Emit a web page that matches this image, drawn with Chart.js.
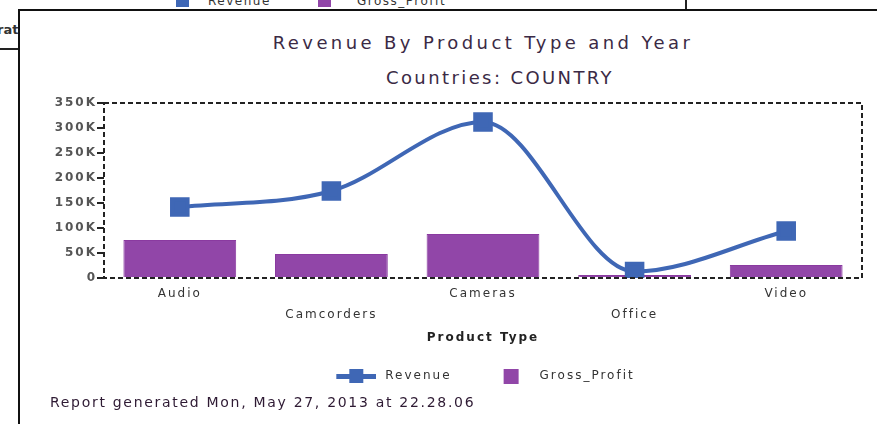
<!DOCTYPE html>
<html>
<head>
<meta charset="utf-8">
<script src="https://cdn.jsdelivr.net/npm/chart.js@4"></script>
<style>
  html, body { margin: 0; padding: 0; background: #fff; }
  body { width: 877px; height: 424px; position: relative; overflow: hidden; font-family: "DejaVu Sans", sans-serif; }
  .back-legend { position: absolute; top: -6px; left: 0; font-size: 12px; letter-spacing: 1.5px; color: #333; }
  .back-legend span { position: absolute; white-space: nowrap; }
  .sq { width: 13px; height: 13px; }
  .back-line-v { position: absolute; left: 685px; top: 0; width: 2px; height: 11px; background: #222; }
  .rat { position: absolute; left: -3px; top: 22px; font: bold 13px "DejaVu Sans", sans-serif; color: #333; }
  .back-line-h { position: absolute; left: 0; top: 48px; width: 20px; height: 2px; background: #222; }
  .panel { position: absolute; left: 18px; top: 9px; width: 900px; height: 430px; border-left: 2px solid #111; border-top: 2px solid #111; background: #fff; }
  .ttl { position: absolute; left: 0; width: 966px; text-align: center; color: #3b2a45; white-space: nowrap; font-family: "DejaVu Sans", sans-serif; line-height: 22px; }
  .t1 { top: 32px; font-size: 18px; letter-spacing: 3.4px; }
  .t2 { top: 67px; left: 17px; font-size: 18px; letter-spacing: 2.4px; }
  #wrap { position: absolute; left: 0; top: 0; width: 877px; height: 424px; }
  .footer { position: absolute; left: 50px; top: 393px; font: 14px/18px "DejaVu Sans", sans-serif; letter-spacing: 1.7px; color: #2e1a33; white-space: nowrap; }
</style>
</head>
<body>
<div class="back-legend">
  <span class="sq" style="left:176px;top:0;background:#3f67b5"></span>
  <span style="left:208px;top:0">Revenue</span>
  <span class="sq" style="left:318px;top:0;background:#9146a8"></span>
  <span style="left:357px;top:0">Gross_Profit</span>
</div>
<div class="back-line-v"></div>
<div class="rat">rat</div>
<div class="back-line-h"></div>
<div class="panel"></div>
<div class="ttl t1">Revenue By Product Type and Year</div>
<div class="ttl t2">Countries: COUNTRY</div>
<div id="wrap"><canvas id="chart"></canvas></div>
<div class="footer">Report generated Mon, May 27, 2013 at 22.28.06</div>
<script>
const categories = ['Audio', 'Camcorders', 'Cameras', 'Office', 'Video'];
const revenue = [142000, 174000, 312000, 13000, 94000];
const grossProfit = [76000, 48000, 88000, 6000, 26000];
const yTicks = [0, 50000, 100000, 150000, 200000, 250000, 300000, 350000];

const blue = '#3f67b5';
const purple = '#9146a8';

// legend icons, drawn at the right end of a 68px wide box
function lineIcon() {
  const c = document.createElement('canvas');
  c.width = 68; c.height = 16;
  const g = c.getContext('2d');
  g.fillStyle = blue;
  g.fillRect(28, 6, 40, 5);
  g.fillRect(41, 1, 14, 14);
  return c;
}
function squareIcon() {
  const c = document.createElement('canvas');
  c.width = 68; c.height = 15;
  const g = c.getContext('2d');
  g.fillStyle = purple;
  g.fillRect(41, 0, 15, 15);
  return c;
}
const icons = [lineIcon(), squareIcon()];

// wide letter spacing like the original report renderer
const spacing = {
  id: 'spacing',
  beforeUpdate(chart) { chart.ctx.letterSpacing = '2px'; },
  beforeDraw(chart) { chart.ctx.letterSpacing = '2px'; },
  afterLayout(chart) {
    // legend sits a little left of the plot centre
    chart.legend.left -= 13;
    chart.legend.right -= 13;
  }
};

const plotFrame = {
  id: 'plotFrame',
  afterDatasetsDraw(chart) {
    const a = chart.chartArea, ctx = chart.ctx;
    ctx.save();
    ctx.strokeStyle = '#222';
    ctx.lineWidth = 2;
    ctx.setLineDash([5, 3]);
    ctx.strokeRect(a.left, a.top, a.right - a.left, a.bottom - a.top);
    ctx.restore();
  }
};

new Chart(document.getElementById('chart'), {
  data: {
    labels: categories.map((c, i) => i % 2 ? ['', c] : [c]),
    datasets: [
      {
        type: 'line',
        label: 'Revenue',
        data: revenue,
        borderColor: blue,
        backgroundColor: blue,
        borderWidth: 4,
        cubicInterpolationMode: 'monotone',
        pointStyle: 'rect',
        pointRadius: 11,
        pointHoverRadius: 11,
        order: 0
      },
      {
        type: 'bar',
        label: 'Gross_Profit',
        data: grossProfit,
        backgroundColor: purple,
        borderColor: '#8a3aa0',
        borderWidth: 1,
        categoryPercentage: 0.8,
        barPercentage: 0.93,
        order: 1
      }
    ]
  },
  options: {
    responsive: true,
    maintainAspectRatio: false,
    animation: false,
    layout: { padding: { left: 44, right: 15, top: 103, bottom: 32 } },
    plugins: {
      title: { display: false },
      legend: {
        position: 'bottom',
        fullSize: false,
        labels: {
          usePointStyle: true,
          pointStyleWidth: 74,
          color: '#333',
          font: { family: 'DejaVu Sans', size: 12 },
          padding: 8,
          generateLabels(chart) {
            const items = Chart.defaults.plugins.legend.labels.generateLabels(chart);
            items.forEach((it, i) => { it.pointStyle = icons[i]; });
            return items;
          }
        }
      },
      tooltip: { enabled: false }
    },
    scales: {
      x: {
        grid: { display: false, drawTicks: false },
        border: { display: false },
        ticks: {
          color: '#333',
          maxRotation: 0,
          autoSkip: false,
          padding: 6,
          font: { family: 'DejaVu Sans', size: 12, lineHeight: 1.7 }
        },
        title: {
          display: true,
          text: 'Product Type',
          color: '#222',
          font: { family: 'DejaVu Sans', size: 12, weight: 'bold' },
          padding: { top: 0, bottom: 16.8 }
        }
      },
      y: {
        min: 0,
        max: 350000,
        afterFit(scale) { scale.width = 60; },
        afterBuildTicks(scale) { scale.ticks = yTicks.map(v => ({ value: v })); },
        grid: { drawOnChartArea: false, tickLength: 7, color: '#222', lineWidth: 2 },
        border: { display: false },
        ticks: {
          color: '#555',
          padding: 0,
          font: { family: 'DejaVu Sans', size: 12, weight: 'bold' },
          callback: v => v === 0 ? '0' : (v / 1000) + 'K'
        }
      }
    }
  },
  plugins: [spacing, plotFrame]
});
</script>
</body>
</html>
